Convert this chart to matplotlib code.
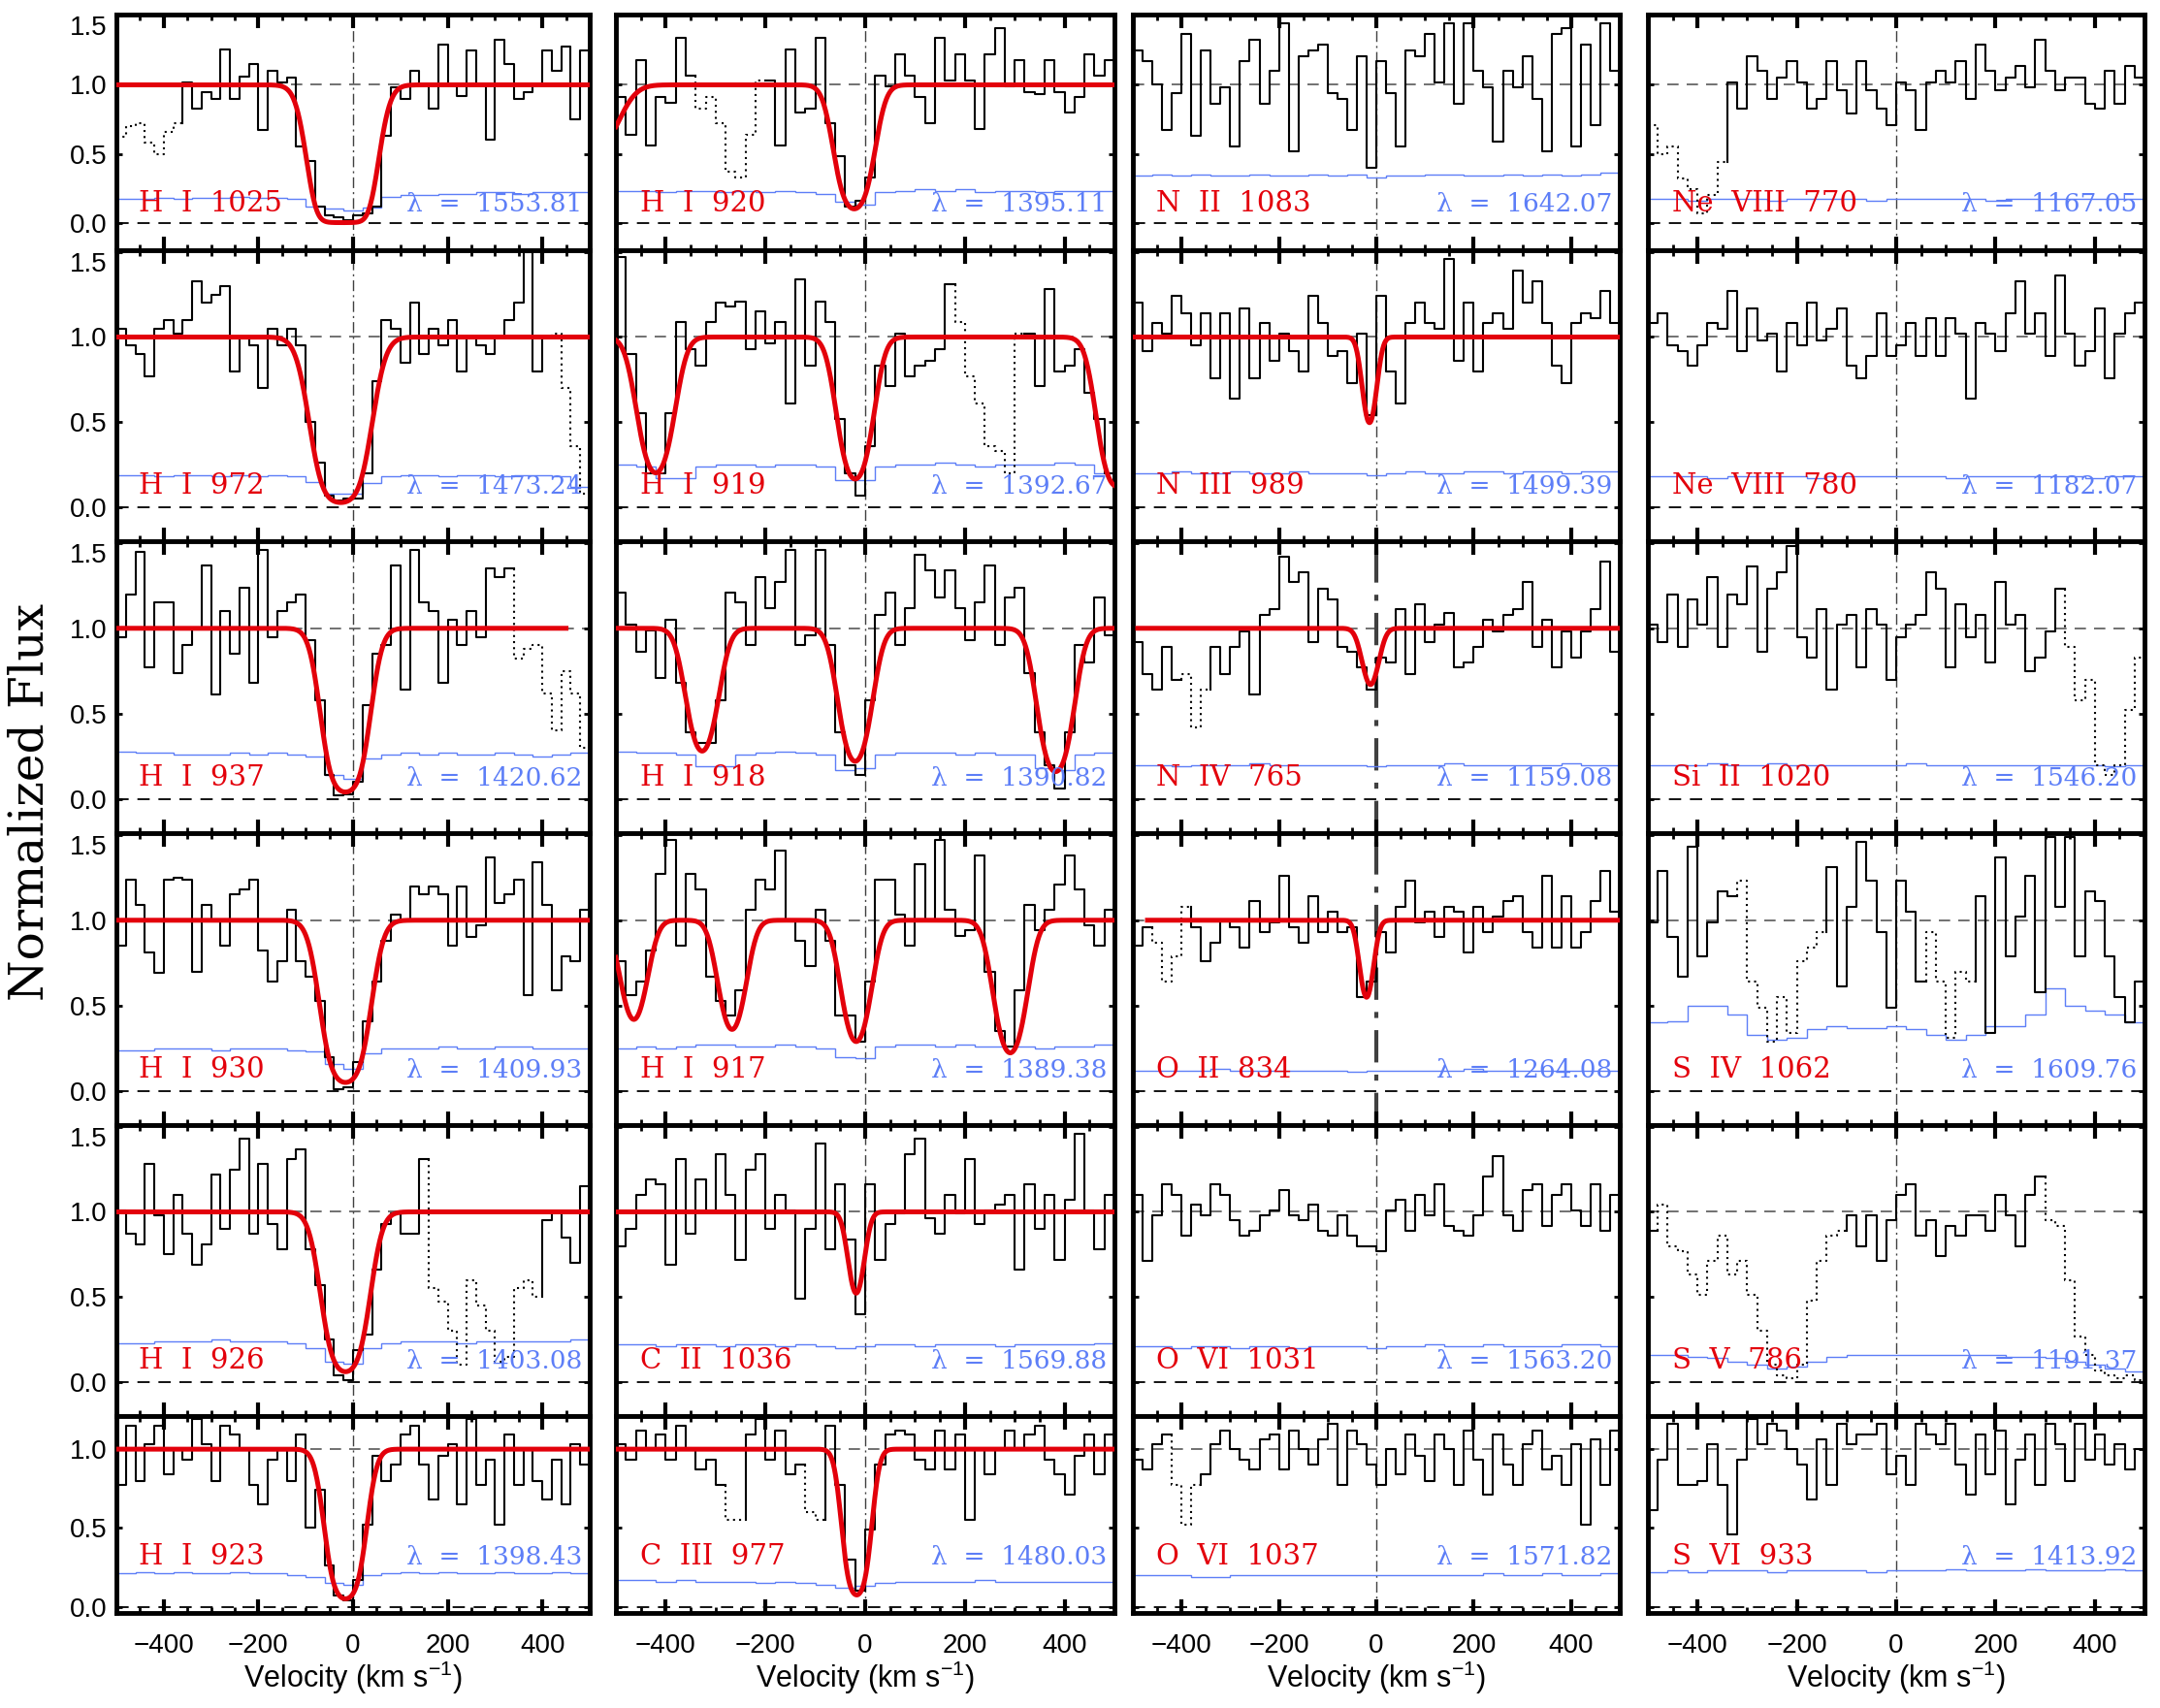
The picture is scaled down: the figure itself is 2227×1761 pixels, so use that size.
import numpy as np
import matplotlib.pyplot as plt

plt.rcParams['font.family'] = ['Liberation Sans', 'DejaVu Sans']
plt.rcParams['mathtext.default'] = 'regular'

# ---- data: flux in 20 km/s bins from -500 to +500, error in 40 km/s bins ----
# column 1
flux_hi1025 = [0.62,0.70,0.72,0.58,0.50,0.66,0.72,1.02,0.83,0.95,
               0.90,1.26,0.90,1.06,1.15,0.67,1.10,1.02,1.05,0.55,
               0.45,0.12,0.05,0.04,0.02,0.05,0.07,0.12,0.63,0.98,
               0.90,1.10,1.00,0.83,1.29,1.00,0.92,1.25,1.00,0.60,
               1.33,1.15,0.90,0.95,1.00,1.25,1.10,1.28,0.75,1.25]
err_hi1025 = [0.17,0.17,0.18,0.17,0.18,0.18,0.19,0.18,0.18,0.17,0.12,0.10,0.09,
              0.11,0.19,0.20,0.20,0.21,0.21,0.22,0.22,0.21,0.22,0.22,0.22]
comps_hi1025 = [(-22, 8.0, 50)]

flux_hi972 = [1.05,0.95,0.90,0.77,1.05,1.10,1.02,1.10,1.33,1.20,
              1.25,1.30,0.80,1.00,0.95,0.70,1.05,0.95,1.05,0.95,
              0.50,0.26,0.07,0.04,0.05,0.05,0.20,0.74,1.10,1.05,
              0.85,1.20,0.90,1.05,0.95,1.10,0.80,1.00,0.95,0.90,
              1.00,1.10,1.20,1.50,0.80,1.00,1.02,0.70,0.36,0.08]
err_hi972 = [0.19,0.19,0.18,0.19,0.19,0.18,0.19,0.18,0.19,0.18,0.15,0.08,0.08,
             0.14,0.18,0.19,0.19,0.18,0.19,0.19,0.18,0.19,0.19,0.18,0.12]
comps_hi972 = [(-26, 3.6, 52)]

flux_hi937 = [0.95,1.20,1.45,0.77,1.15,1.15,0.74,0.90,1.00,1.37,
              0.61,1.10,0.85,1.24,0.68,1.46,0.95,1.10,1.15,1.20,
              0.93,0.58,0.14,0.02,0.03,0.10,0.55,0.85,0.90,1.37,
              0.64,1.46,1.15,1.10,0.68,1.05,0.90,1.10,0.95,1.35,
              1.30,1.35,0.82,0.88,0.90,0.62,0.40,0.75,0.62,0.30]
err_hi937 = [0.28,0.27,0.27,0.26,0.26,0.26,0.27,0.26,0.27,0.26,0.25,0.14,0.12,
             0.24,0.26,0.27,0.26,0.27,0.26,0.26,0.27,0.26,0.25,0.26,0.27]
comps_hi937 = [(-16, 3.2, 43)]

flux_hi930 = [0.85,1.24,1.09,0.81,0.69,1.24,1.25,1.24,0.70,1.09,
              1.00,0.85,1.15,1.18,1.24,0.82,0.64,0.76,1.06,0.76,
              0.67,0.53,0.20,0.01,0.02,0.17,0.41,0.64,0.88,1.03,
              1.00,1.20,1.15,1.20,1.15,0.85,1.20,0.90,0.97,1.37,
              1.10,1.15,1.24,0.56,1.34,1.09,0.59,0.79,0.76,1.06]
err_hi930 = [0.24,0.24,0.25,0.25,0.25,0.24,0.25,0.25,0.25,0.24,0.23,0.16,0.13,
             0.22,0.25,0.25,0.25,0.26,0.25,0.25,0.26,0.26,0.25,0.25,0.25]
comps_hi930 = [(-16, 3.0, 45)]

flux_hi926 = [1.01,0.87,0.81,1.28,0.98,0.75,1.10,0.87,0.69,0.81,
              1.22,0.90,1.25,1.43,0.87,1.28,0.93,0.78,1.31,1.37,
              0.78,0.57,0.25,0.04,0.01,0.19,0.28,0.66,0.93,0.99,
              0.87,0.87,1.31,0.55,0.47,0.30,0.10,0.60,0.45,0.30,
              0.12,0.15,0.55,0.60,0.50,0.95,1.00,0.85,0.70,1.15]
err_hi926 = [0.23,0.23,0.24,0.24,0.24,0.25,0.24,0.24,0.24,0.23,0.20,0.12,0.11,
             0.20,0.23,0.24,0.24,0.24,0.23,0.24,0.24,0.24,0.24,0.24,0.25]
comps_hi926 = [(-16, 2.8, 44)]

flux_hi923 = [0.77,1.15,0.80,1.03,1.15,0.84,1.00,0.93,1.19,1.03,
              0.80,1.15,1.09,1.00,0.77,0.65,0.93,1.00,0.80,1.09,
              0.50,0.74,0.26,0.07,0.04,0.17,0.52,0.96,0.80,0.90,
              1.09,1.15,0.90,0.68,0.96,1.03,0.65,1.19,0.77,0.93,
              0.52,1.09,0.77,1.00,0.80,0.68,0.93,0.65,1.03,0.90]
err_hi923 = [0.21,0.22,0.21,0.22,0.21,0.21,0.22,0.21,0.21,0.20,0.19,0.15,0.14,
             0.20,0.21,0.22,0.21,0.22,0.21,0.21,0.22,0.21,0.21,0.22,0.21]
comps_hi923 = [(-16, 3.0, 37)]

# column 2
flux_hi920 = [0.91,0.64,1.18,0.56,0.91,0.87,1.34,1.07,0.83,0.91,
              0.72,0.37,0.33,0.64,1.03,1.03,0.56,1.26,0.80,0.83,
              1.34,0.72,0.48,0.12,0.16,0.33,1.07,0.99,1.22,1.07,
              0.91,0.72,1.34,1.03,1.22,1.03,0.68,1.22,1.41,0.99,
              1.18,0.95,0.93,1.18,0.95,0.80,0.91,1.22,1.07,1.18]
err_hi920 = [0.23,0.23,0.22,0.23,0.23,0.22,0.23,0.22,0.23,0.22,0.21,0.15,0.13,
             0.22,0.23,0.24,0.23,0.24,0.22,0.23,0.23,0.22,0.23,0.23,0.23]
comps_hi920 = [(-540, 0.64, 53), (-22, 2.3, 37)]

flux_hi919 = [1.47,0.90,0.55,0.20,0.20,0.55,1.09,0.93,0.83,1.09,
              1.20,1.18,1.21,0.93,1.15,0.96,1.09,0.61,1.34,0.83,
              1.21,1.09,0.52,0.20,0.07,0.36,0.83,0.71,1.02,0.77,
              0.83,0.86,0.93,1.31,1.09,0.77,0.61,0.36,0.33,0.20,
              1.02,1.02,0.71,1.28,0.80,0.83,0.93,0.67,0.52,0.20]
err_hi919 = [0.25,0.24,0.17,0.17,0.24,0.25,0.25,0.24,0.25,0.25,0.24,0.16,0.16,
             0.24,0.25,0.25,0.26,0.25,0.24,0.25,0.25,0.25,0.26,0.25,0.20]
comps_hi919 = [(-420, 1.6, 38), (-20, 1.8, 36), (505, 2.1, 38)]

flux_hi918 = [1.21,1.02,0.86,0.99,0.71,1.05,0.68,0.39,0.33,0.33,
              0.58,1.21,1.15,0.90,1.30,1.12,1.27,1.46,0.90,0.96,
              1.46,0.90,0.39,0.20,0.14,0.58,1.08,1.21,0.90,1.12,
              1.43,1.34,1.18,1.34,1.12,0.93,1.15,1.37,0.90,1.18,
              1.24,0.74,0.39,0.20,0.06,0.39,0.90,0.80,1.18,0.96]
err_hi918 = [0.28,0.27,0.27,0.26,0.19,0.19,0.26,0.27,0.28,0.27,0.26,0.17,0.18,
             0.26,0.27,0.27,0.27,0.26,0.27,0.26,0.26,0.18,0.17,0.26,0.27]
comps_hi918 = [(-327, 1.27, 35), (-20, 1.51, 35), (382, 1.83, 36)]

flux_hi917 = [0.76,0.56,0.64,0.82,1.27,1.47,0.85,1.27,1.18,0.67,
              0.53,0.44,0.59,1.06,1.24,1.18,1.41,1.00,0.88,0.73,
              1.06,0.88,0.44,0.44,0.29,0.64,1.24,1.24,1.03,0.85,
              1.33,1.00,1.47,1.06,0.91,0.94,1.38,0.70,0.35,0.26,
              0.59,1.09,0.94,1.06,1.21,1.38,1.18,0.97,0.85,1.06]
err_hi917 = [0.25,0.26,0.25,0.26,0.27,0.27,0.26,0.26,0.27,0.26,0.25,0.20,0.19,
             0.26,0.27,0.27,0.26,0.27,0.26,0.26,0.26,0.25,0.26,0.26,0.27]
comps_hi917 = [(-464, 0.87, 32), (-267, 1.02, 32), (-18, 1.24, 33), (291, 1.5, 35)]

flux_cii1036 = [0.80,0.90,1.10,1.19,1.16,0.69,1.31,0.87,1.19,1.01,
                1.34,1.10,0.72,1.25,1.34,0.90,1.10,1.01,0.49,0.90,
                1.40,0.78,1.16,0.84,0.40,1.16,0.72,0.93,0.99,1.34,
                1.43,0.96,0.87,1.10,0.99,1.31,0.93,1.01,1.04,1.10,
                0.66,1.16,0.90,1.10,0.72,1.07,1.46,1.01,0.78,1.10]
err_cii1036 = [0.22,0.22,0.21,0.22,0.22,0.21,0.22,0.22,0.21,0.22,0.21,0.20,0.21,
               0.22,0.22,0.21,0.22,0.22,0.22,0.21,0.22,0.22,0.22,0.22,0.23]
comps_cii1036 = [(-18, 0.65, 20)]

flux_ciii977 = [1.03,0.93,1.12,1.00,1.09,0.93,1.15,1.00,0.87,0.93,
                0.77,0.55,0.55,1.09,1.19,0.93,1.12,0.84,0.90,0.60,
                0.55,1.15,0.77,0.30,0.10,0.49,0.90,1.09,1.12,1.09,
                0.93,0.87,1.12,0.87,1.09,0.55,1.00,0.84,1.00,1.12,
                1.00,1.09,1.15,0.93,0.84,0.71,0.96,1.09,0.84,1.09]
err_ciii977 = [0.17,0.17,0.16,0.17,0.16,0.16,0.16,0.15,0.16,0.15,0.14,0.12,0.13,
               0.15,0.16,0.16,0.16,0.16,0.17,0.16,0.16,0.16,0.16,0.16,0.16]
comps_ciii977 = [(-17, 2.6, 26)]

# column 3
flux_nii1083 = [1.25,1.17,1.00,0.67,0.94,1.37,0.63,1.25,0.86,0.98,
                0.55,1.17,1.33,0.86,1.10,1.45,0.52,1.21,1.25,1.29,
                0.94,0.90,0.67,1.21,0.40,1.17,0.94,0.55,1.25,1.21,
                1.37,1.02,1.45,0.86,1.45,1.10,0.98,0.59,1.10,0.98,
                1.21,0.90,0.52,1.37,1.41,0.55,1.29,0.71,1.45,1.10]
err_nii1083 = [0.34,0.35,0.34,0.35,0.34,0.34,0.35,0.34,0.34,0.35,0.34,0.35,0.33,
               0.34,0.34,0.35,0.35,0.34,0.34,0.35,0.34,0.35,0.34,0.35,0.36]

flux_niii989 = [1.20,0.92,1.08,1.02,1.24,1.14,0.95,1.14,0.76,1.14,
                0.64,1.17,0.76,1.08,0.86,1.02,0.92,0.80,1.24,1.08,
                0.89,0.92,0.73,1.02,0.54,1.24,0.80,0.61,1.08,1.20,
                1.08,1.05,1.46,0.86,1.20,0.80,1.08,1.14,1.05,1.39,
                1.20,1.33,1.08,0.83,0.73,1.08,1.14,1.11,1.27,1.08]
err_niii989 = [0.20,0.20,0.21,0.20,0.20,0.21,0.20,0.20,0.21,0.20,0.20,0.20,0.19,
               0.20,0.21,0.20,0.20,0.21,0.21,0.20,0.21,0.21,0.20,0.21,0.21]
comps_niii989 = [(-14, 0.7, 18)]

flux_niv765 = [0.92,0.73,0.64,0.89,0.70,0.73,0.42,0.64,0.89,0.73,
               0.89,0.98,0.61,1.08,1.11,1.42,1.27,1.33,0.92,1.23,
               1.17,0.89,0.86,0.77,0.64,0.83,0.80,1.11,0.73,1.14,
               0.92,1.02,1.09,0.77,0.80,0.89,1.05,0.98,1.08,1.11,
               1.27,0.89,1.05,0.77,0.98,0.83,0.98,1.11,1.39,0.86]
err_niv765 = [0.20,0.20,0.19,0.20,0.20,0.20,0.21,0.20,0.20,0.20,0.20,0.20,0.19,
              0.20,0.20,0.20,0.21,0.20,0.20,0.20,0.20,0.20,0.21,0.20,0.20]
comps_niv765 = [(-12, 0.4, 22)]

flux_oii834 = [0.85,0.96,0.87,0.64,0.79,1.08,0.96,0.76,0.87,1.00,
               0.96,0.84,1.11,0.93,0.99,1.26,0.96,0.87,1.14,0.93,
               1.05,0.93,0.96,0.55,0.64,0.93,0.81,1.08,1.23,0.99,
               1.05,0.90,1.08,1.05,0.81,1.08,0.93,1.02,1.11,1.14,
               0.93,0.84,1.26,0.84,1.14,0.84,0.93,1.11,1.29,1.05]
err_oii834 = [0.12,0.12,0.12,0.12,0.13,0.12,0.12,0.12,0.12,0.12,0.12,0.11,0.12,
              0.12,0.12,0.12,0.12,0.13,0.12,0.12,0.12,0.12,0.12,0.12,0.12]
comps_oii834 = [(-20, 0.6, 18)]

flux_ovi1031 = [1.10,0.71,0.98,1.16,1.10,0.86,1.04,0.98,1.16,1.10,
                0.95,0.86,0.89,0.98,1.01,1.13,0.98,0.95,1.04,0.89,
                0.86,0.98,0.86,0.80,0.80,0.77,1.01,1.07,0.89,1.10,
                0.98,1.16,0.92,0.89,0.86,0.98,1.21,1.33,0.98,0.89,
                1.13,1.16,0.92,1.10,1.16,1.01,0.92,1.16,0.89,1.10]
err_ovi1031 = [0.21,0.21,0.20,0.21,0.21,0.20,0.21,0.21,0.20,0.21,0.21,0.21,0.20,
               0.21,0.21,0.22,0.21,0.21,0.22,0.21,0.21,0.21,0.22,0.22,0.21]

flux_ovi1037 = [0.93,0.87,1.03,1.09,0.77,0.52,0.77,0.84,1.03,1.12,
                1.00,0.93,0.87,1.06,1.09,0.87,1.12,1.00,0.90,1.06,
                1.16,0.77,1.12,1.03,0.90,0.77,1.00,0.84,1.09,0.96,
                0.80,1.09,1.00,0.77,1.12,0.93,0.71,1.09,0.90,0.77,
                1.03,1.12,0.87,0.96,0.77,1.03,0.52,1.06,0.77,1.12]
err_ovi1037 = [0.20,0.20,0.20,0.19,0.19,0.20,0.20,0.20,0.20,0.20,0.20,0.20,0.20,
               0.20,0.20,0.20,0.20,0.20,0.21,0.20,0.20,0.21,0.20,0.20,0.21]

# column 4
flux_neviii770 = [0.71,0.50,0.55,0.32,0.24,0.07,0.20,0.44,1.02,0.83,
                  1.21,1.10,0.90,1.05,1.17,1.02,0.83,0.90,1.17,0.96,
                  0.79,1.17,0.96,0.83,0.71,1.02,0.96,0.67,1.02,1.10,
                  1.02,1.17,0.90,1.29,1.10,0.96,1.05,1.14,0.98,1.33,
                  1.10,0.96,1.05,1.05,0.86,0.83,1.10,0.86,1.14,1.05]
err_neviii770 = [0.17,0.17,0.16,0.17,0.17,0.17,0.16,0.17,0.17,0.17,0.17,0.16,0.17,
                 0.17,0.17,0.17,0.17,0.16,0.17,0.17,0.17,0.17,0.17,0.17,0.17]

flux_neviii780 = [1.08,1.14,0.95,0.92,0.83,0.95,1.08,1.05,1.27,0.92,
                  1.17,0.98,1.02,0.80,1.08,0.95,1.20,0.98,1.05,1.17,
                  0.83,0.76,0.89,1.14,0.89,0.95,1.08,0.89,1.11,0.89,
                  1.11,1.02,0.64,1.08,1.02,0.92,1.14,1.33,1.02,1.14,
                  0.89,1.36,1.02,0.83,0.92,1.17,0.76,1.02,1.14,1.20]
err_neviii780 = [0.18,0.18,0.18,0.17,0.18,0.18,0.18,0.18,0.17,0.18,0.18,0.18,0.18,
                 0.18,0.18,0.17,0.18,0.18,0.18,0.18,0.18,0.18,0.17,0.18,0.18]

flux_siii1020 = [1.02,0.92,1.20,0.89,1.17,1.02,1.30,0.89,1.20,1.14,
                 1.36,0.86,1.23,1.33,1.48,0.95,0.83,1.11,0.64,1.02,
                 1.08,0.77,1.11,1.02,0.70,0.95,1.02,1.08,1.33,1.23,
                 0.77,1.14,0.95,1.08,0.80,1.27,1.02,1.08,0.75,0.83,
                 0.98,1.23,0.89,0.58,0.70,0.20,0.14,0.20,0.52,0.83]
err_siii1020 = [0.20,0.20,0.20,0.21,0.20,0.20,0.21,0.20,0.20,0.20,0.20,0.20,0.20,
                0.21,0.20,0.20,0.20,0.20,0.20,0.20,0.20,0.20,0.20,0.19,0.20]

flux_siv1062 = [0.99,1.29,0.90,0.67,1.43,0.79,0.99,1.17,1.14,1.23,
                0.64,0.49,0.29,0.55,0.34,0.76,0.84,0.93,1.31,0.61,
                1.08,1.46,1.23,0.93,0.49,1.23,1.05,0.64,0.93,0.64,
                0.31,0.70,0.64,1.14,0.34,1.37,0.79,1.02,1.26,0.58,
                1.49,1.08,1.49,0.79,1.17,1.11,0.79,0.55,0.40,0.64]
err_siv1062 = [0.40,0.41,0.50,0.50,0.45,0.33,0.30,0.31,0.36,0.38,0.37,0.37,0.38,
               0.36,0.33,0.30,0.33,0.38,0.38,0.45,0.60,0.50,0.47,0.45,0.40]

flux_sv786 = [0.89,1.04,0.80,0.77,0.63,0.51,0.71,0.86,0.63,0.71,
              0.51,0.30,0.10,0.04,0.02,0.10,0.48,0.71,0.86,0.89,
              0.98,0.80,0.98,0.71,0.95,1.10,1.16,0.86,0.95,0.74,
              0.92,0.86,0.98,0.98,0.89,1.10,0.98,0.80,1.10,1.21,
              0.95,0.92,0.60,0.27,0.16,0.07,0.04,0.02,0.04,0.01]
err_sv786 = [0.16,0.16,0.15,0.14,0.12,0.10,0.08,0.09,0.12,0.15,0.16,0.16,0.16,
             0.16,0.16,0.16,0.16,0.16,0.15,0.15,0.14,0.12,0.10,0.08,0.06]

flux_svi933 = [0.61,0.93,1.16,0.77,0.77,0.80,1.03,0.77,0.46,0.93,
               1.19,1.03,1.16,1.12,1.00,0.90,0.68,1.06,0.77,1.16,
               1.03,1.09,1.09,1.16,0.84,0.96,0.77,1.16,1.09,1.03,
               1.16,0.90,0.71,1.09,0.84,1.12,0.65,0.93,1.09,0.77,
               1.16,1.03,0.80,1.16,0.93,1.09,0.90,1.03,0.87,1.00]
err_svi933 = [0.22,0.23,0.22,0.23,0.23,0.23,0.22,0.23,0.23,0.23,0.23,0.22,0.23,
              0.23,0.23,0.24,0.23,0.23,0.23,0.24,0.23,0.23,0.23,0.24,0.23]

# panel descriptions, column by column (top to bottom)
columns = [
    [dict(ion='H I 1025', lam='1553.81', flux=flux_hi1025, err=err_hi1025, dotted=[(0, 7)], comps=comps_hi1025),
     dict(ion='H I 972', lam='1473.24', flux=flux_hi972, err=err_hi972, dotted=[(46, 50)], comps=comps_hi972),
     dict(ion='H I 937', lam='1420.62', flux=flux_hi937, err=err_hi937, dotted=[(42, 50)], comps=comps_hi937, vrange=(-500, 450)),
     dict(ion='H I 930', lam='1409.93', flux=flux_hi930, err=err_hi930, dotted=[], comps=comps_hi930),
     dict(ion='H I 926', lam='1403.08', flux=flux_hi926, err=err_hi926, dotted=[(33, 45)], comps=comps_hi926),
     dict(ion='H I 923', lam='1398.43', flux=flux_hi923, err=err_hi923, dotted=[], comps=comps_hi923)],
    [dict(ion='H I 920', lam='1395.11', flux=flux_hi920, err=err_hi920, dotted=[(8, 15)], comps=comps_hi920),
     dict(ion='H I 919', lam='1392.67', flux=flux_hi919, err=err_hi919, dotted=[(34, 41)], comps=comps_hi919),
     dict(ion='H I 918', lam='1390.82', flux=flux_hi918, err=err_hi918, dotted=[], comps=comps_hi918),
     dict(ion='H I 917', lam='1389.38', flux=flux_hi917, err=err_hi917, dotted=[], comps=comps_hi917),
     dict(ion='C II 1036', lam='1569.88', flux=flux_cii1036, err=err_cii1036, dotted=[], comps=comps_cii1036),
     dict(ion='C III 977', lam='1480.03', flux=flux_ciii977, err=err_ciii977, dotted=[(11, 13), (19, 21)], comps=comps_ciii977)],
    [dict(ion='N II 1083', lam='1642.07', flux=flux_nii1083, err=err_nii1083, dotted=[], comps=None),
     dict(ion='N III 989', lam='1499.39', flux=flux_niii989, err=err_niii989, dotted=[], comps=comps_niii989),
     dict(ion='N IV 765', lam='1159.08', flux=flux_niv765, err=err_niv765, dotted=[(5, 8)], comps=comps_niv765, vrange=(-490, 500), thick=True),
     dict(ion='O II 834', lam='1264.08', flux=flux_oii834, err=err_oii834, dotted=[(2, 6)], comps=comps_oii834, vrange=(-470, 500), thick=True),
     dict(ion='O VI 1031', lam='1563.20', flux=flux_ovi1031, err=err_ovi1031, dotted=[], comps=None),
     dict(ion='O VI 1037', lam='1571.82', flux=flux_ovi1037, err=err_ovi1037, dotted=[(4, 7)], comps=None)],
    [dict(ion='Ne VIII 770', lam='1167.05', flux=flux_neviii770, err=err_neviii770, dotted=[(0, 8)], comps=None),
     dict(ion='Ne VIII 780', lam='1182.07', flux=flux_neviii780, err=err_neviii780, dotted=[], comps=None),
     dict(ion='Si II 1020', lam='1546.20', flux=flux_siii1020, err=err_siii1020, dotted=[(42, 50)], comps=None),
     dict(ion='S IV 1062', lam='1609.76', flux=flux_siv1062, err=err_siv1062, dotted=[(9, 18), (28, 33)], comps=None),
     dict(ion='S V 786', lam='1191.37', flux=flux_sv786, err=err_sv786, dotted=[(1, 20), (40, 50)], comps=None),
     dict(ion='S VI 933', lam='1413.92', flux=flux_svi933, err=err_svi933, dotted=[], comps=None)],
]

RED = '#e3000b'
BLUE = '#5d7ef7'
W, H = 2227, 1761
col_px = [(120, 608), (635, 1149), (1168, 1670), (1699, 2211)]
row_px = [(15, 258), (258, 558), (558, 859), (859, 1160), (1160, 1460), (1460, 1663)]
DASH = (0, (7, 5))


def draw_flux(ax, flux, dotted):
    flux = np.asarray(flux, float)
    n = len(flux)
    edges = np.linspace(-500, 500, n + 1)
    is_dot = np.zeros(n, bool)
    for a, b in dotted:
        is_dot[a:b] = True
    start = 0
    for i in range(1, n + 1):
        if i == n or is_dot[i] != is_dot[start]:
            xs = list(edges[start:i + 1])
            ys = list(flux[start:i]) + [flux[i - 1]]
            if start > 0:
                xs = [edges[start]] + xs
                ys = [flux[start - 1]] + ys
            ax.plot(xs, ys, drawstyle='steps-post', color='k',
                    lw=1.5 if is_dot[start] else 1.5,
                    ls=(0, (1, 2)) if is_dot[start] else '-', zorder=3)
            start = i


fig = plt.figure(figsize=(W / 100, H / 100), dpi=100)

for c, col in enumerate(columns):
    x0, x1 = col_px[c]
    for r, p in enumerate(col):
        y0, y1 = row_px[r]
        ax = fig.add_axes([x0 / W, 1 - y1 / H, (x1 - x0) / W, (y1 - y0) / H])
        last = (r == len(col) - 1)
        ylo, yhi = (-0.04, 1.21) if last else (-0.2, 1.51)

        ax.axhline(1.0, color='0.35', lw=1.2, ls=DASH, zorder=1)
        ax.axhline(0.0, color='k', lw=1.3, ls=DASH, zorder=1)
        ax.axvline(0.0, color='0.25', lw=3.0 if p.get('thick') else 1.0,
                   ls=(0, (8, 3, 1.5, 3)), zorder=1)

        err = np.asarray(p['err'])
        ax.stairs(err, np.linspace(-500, 500, len(err) + 1), baseline=None,
                  color=BLUE, lw=1.0, zorder=2)
        draw_flux(ax, p['flux'], p['dotted'])

        if p['comps']:
            lo, hi = p.get('vrange', (-500, 500))
            v = np.linspace(lo, hi, 900)
            tau = np.zeros_like(v)
            for vc, t0, b in p['comps']:
                tau += t0 * np.exp(-((v - vc) / b) ** 2)
            ax.plot(v, np.exp(-tau), color=RED, lw=3.6, zorder=4)

        ty = 0.27 if last else 0.08
        ax.text(-452, ty, p['ion'].replace(' ', '  '), color=RED, fontsize=21,
                family='DejaVu Serif', va='baseline', ha='left', zorder=5)
        ax.text(485, ty, '\u03bb  =  ' + p['lam'], color=BLUE, fontsize=19,
                family='DejaVu Serif', va='baseline', ha='right', zorder=5)

        ax.set_xlim(-500, 500)
        ax.set_ylim(ylo, yhi)
        ax.set_xticks([-400, -200, 0, 200, 400])
        ax.set_xticks(np.arange(-450, 500, 50), minor=True)
        yt = [0.0, 0.5, 1.0] if last else [0.0, 0.5, 1.0, 1.5]
        ax.set_yticks(yt)
        ax.tick_params(which='both', direction='in', top=True, right=True)
        ax.tick_params(axis='x', which='major', length=10, width=3)
        ax.tick_params(axis='x', which='minor', length=4.5, width=2)
        ax.tick_params(axis='y', which='major', length=4, width=2)
        for s in ax.spines.values():
            s.set_linewidth(3.5)

        if c == 0:
            ax.set_yticklabels(['%.1f' % t for t in yt], fontsize=20)
            ax.tick_params(axis='y', pad=7)
            if not last:
                ax.get_yticklabels()[-1].set_va('top')
        else:
            ax.set_yticklabels([])
        if last:
            ax.set_xticklabels(['\u2212400', '\u2212200', '0', '200', '400'], fontsize=20)
            ax.tick_params(axis='x', pad=15)
        else:
            ax.set_xticklabels([])

    fig.text((x0 + x1) / 2 / W, 1 - 1730 / H, 'Velocity (km s$^{-1}$)',
             fontsize=22, ha='center', va='center')

fig.text(31 / W, 1 - 827 / H, 'Normalized Flux', rotation=90, fontsize=35,
         family='DejaVu Serif', ha='center', va='center')

fig.savefig('out.png', dpi=100)
